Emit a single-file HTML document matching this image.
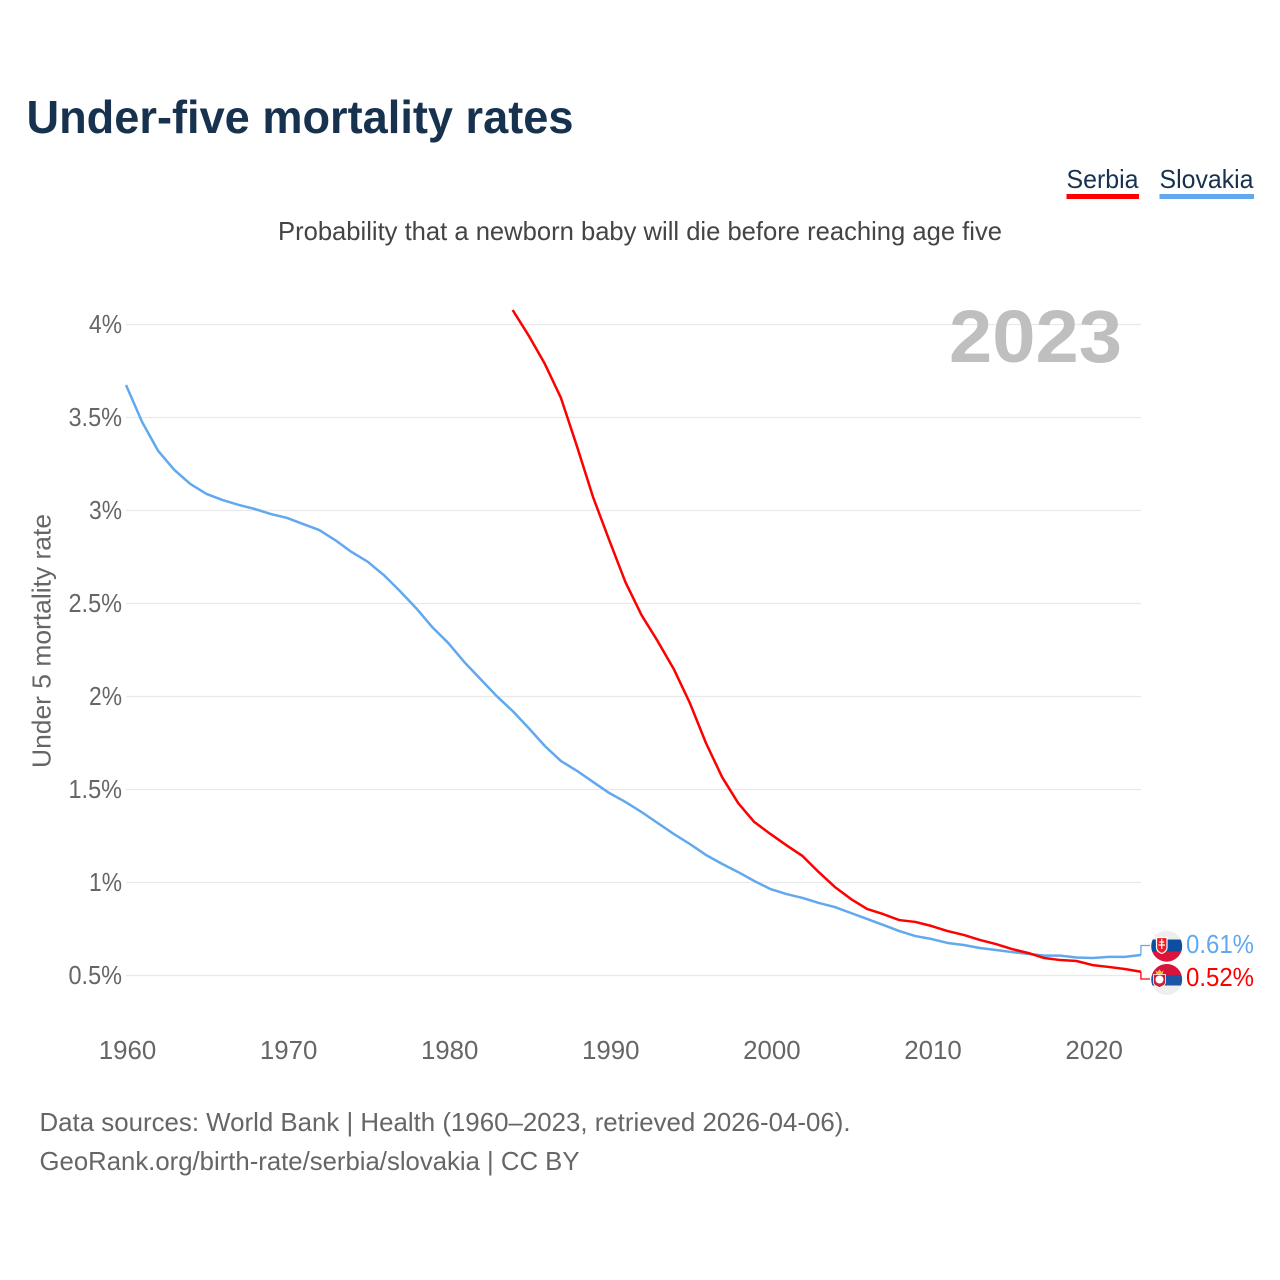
<!DOCTYPE html>
<html lang="en">
<head>
<meta charset="utf-8">
<title>Under-five mortality rates</title>
<style>
html,body{margin:0;padding:0;background:#fff;width:1280px;height:1280px;overflow:hidden}
svg{display:block}
text{font-family:"Liberation Sans",sans-serif}
</style>
</head>
<body>
<svg id="chart" xmlns="http://www.w3.org/2000/svg" width="1280" height="1280" viewBox="0 0 1280 1280">
  <defs>
    <clipPath id="clip-sk"><circle cx="1166.700" cy="946.200" r="15.500"/></clipPath>
    <clipPath id="clip-rs"><circle cx="1166.700" cy="979.500" r="15.500"/></clipPath>
  </defs>
  <rect width="1280" height="1280" fill="#fff"/>
  <text x="26.500" y="133" font-size="46" font-weight="700" fill="#17324f" textLength="547" lengthAdjust="spacingAndGlyphs">Under-five mortality rates</text>
  <g>
    <text x="1066.500" y="188" font-size="26" fill="#17324f" textLength="72" lengthAdjust="spacingAndGlyphs">Serbia</text>
    <rect x="1066.500" y="194" width="72.500" height="5" fill="#ff0000"/>
  </g>
  <g>
    <text x="1159.500" y="188" font-size="26" fill="#17324f" textLength="94" lengthAdjust="spacingAndGlyphs">Slovakia</text>
    <rect x="1159.500" y="194" width="94.500" height="5" fill="#62a8ee"/>
  </g>
  <text x="640" y="240" font-size="26" fill="#444" text-anchor="middle" textLength="724" lengthAdjust="spacingAndGlyphs">Probability that a newborn baby will die before reaching age five</text>
  <text transform="translate(50.500,641) rotate(-90)" font-size="26" fill="#666" text-anchor="middle" textLength="254" lengthAdjust="spacingAndGlyphs">Under 5 mortality rate</text>
  <g id="grid"></g>
  <g id="ytick"></g>
  <g id="xtick"></g>
  <text x="1122" y="362" font-size="74" font-weight="700" fill="#bfbfbf" text-anchor="end" textLength="173" lengthAdjust="spacingAndGlyphs">2023</text>
  <g id="series"></g>
  <g clip-path="url(#clip-sk)">
    <rect x="1150" y="930" width="34" height="10" fill="#eeeeee"/>
    <rect x="1150" y="939.500" width="34" height="12.500" fill="#0b4ea2"/>
    <rect x="1150" y="951.500" width="34" height="12" fill="#dc143c"/>
    <path d="M1156.500 937.500h10.500v10q0 4-5.250 6q-5.250-2-5.250-6z" fill="#ee1c25" stroke="#fff" stroke-width="1.200"/>
    <path d="M1161.750 939v10M1159.250 942h5M1158.500 945h6.500" stroke="#fff" stroke-width="1.200" fill="none"/>
  </g>
  <g clip-path="url(#clip-rs)">
    <rect x="1150" y="963" width="34" height="12" fill="#d6143c"/>
    <rect x="1150" y="975" width="34" height="10.500" fill="#1c55a5"/>
    <rect x="1150" y="985.500" width="34" height="11" fill="#eeeeee"/>
    <path d="M1155.500 970.500l2 1.500 2-2.500 2 2.500 2-1.500-1 4h-6z" fill="#f3c53c"/>
    <path d="M1153.500 974.500h12v8q0 3-6 5q-6-2-6-5z" fill="#c6213b" stroke="#fff" stroke-width="0.800"/>
    <circle cx="1159.500" cy="979.500" r="4" fill="#fff"/>
  </g>
  <text id="end-sk" x="1186" y="953" font-size="26" fill="#62a8ee" textLength="68" lengthAdjust="spacingAndGlyphs"></text>
  <text id="end-rs" x="1186" y="986" font-size="26" fill="#ff0000" textLength="68" lengthAdjust="spacingAndGlyphs"></text>
  <text x="39.500" y="1131" font-size="26" fill="#666" textLength="811" lengthAdjust="spacingAndGlyphs">Data sources: World Bank | Health (1960–2023, retrieved 2026-04-06).</text>
  <text x="39.500" y="1170" font-size="26" fill="#666" textLength="540" lengthAdjust="spacingAndGlyphs">GeoRank.org/birth-rate/serbia/slovakia | CC BY</text>
</svg>
<script>
const yTickValues = [0.5, 1, 1.5, 2, 2.5, 3, 3.5, 4];
const yTickLabels = ["0.5%", "1%", "1.5%", "2%", "2.5%", "3%", "3.5%", "4%"];
const xTickYears = [1960, 1970, 1980, 1990, 2000, 2010, 2020];
const slovakiaStartYear = 1960;
const slovakiaValues = [3.675,3.476,3.32,3.218,3.142,3.089,3.056,3.03,3.008,2.981,2.96,2.927,2.895,2.84,2.777,2.725,2.653,2.567,2.476,2.374,2.288,2.185,2.094,2.003,1.922,1.83,1.734,1.653,1.6,1.54,1.481,1.433,1.379,1.32,1.261,1.207,1.148,1.1,1.056,1.008,0.965,0.938,0.917,0.89,0.868,0.836,0.804,0.772,0.739,0.712,0.696,0.675,0.664,0.648,0.637,0.626,0.616,0.607,0.607,0.597,0.594,0.6,0.6,0.61];
const serbiaStartYear = 1984;
const serbiaValues = [4.078,3.94,3.788,3.605,3.343,3.07,2.84,2.615,2.438,2.298,2.148,1.965,1.75,1.567,1.427,1.325,1.261,1.2,1.142,1.056,0.976,0.911,0.858,0.83,0.798,0.788,0.766,0.739,0.718,0.691,0.669,0.642,0.621,0.594,0.583,0.578,0.556,0.546,0.535,0.52];
const endLabelSlovakia = "0.61%";
const endLabelSerbia = "0.52%";

const NS = "http://www.w3.org/2000/svg";
const xScale = year => 126 + (year - 1960) * 16.11;
const yScale = value => 1068.5 - value * 186;
const make = (tag, attrs, parent) => {
  const el = document.createElementNS(NS, tag);
  for (const k in attrs) el.setAttribute(k, attrs[k]);
  parent.appendChild(el);
  return el;
};
const grid = document.getElementById("grid");
const ytick = document.getElementById("ytick");
const xtick = document.getElementById("xtick");
const series = document.getElementById("series");

yTickValues.forEach((v, i) => {
  const y = yScale(v);
  const line = make("line", {x1: 126, x2: 1141, y1: y, y2: y, stroke: "#e9e9e9", "stroke-width": 1.2}, grid);
  
  
  const t = make("text", {x: 122, y: y + 8.5, "font-size": 26, fill: "#666", "text-anchor": "end"}, ytick);
  
  
  t.textContent = yTickLabels[i];
  t.setAttribute("textLength", yTickLabels[i].length > 2 ? 53.5 : 33);
  t.setAttribute("lengthAdjust", "spacingAndGlyphs");
});

xTickYears.forEach(year => {
  const t = make("text", {x: xScale(year) + 1.5, y: 1059, "font-size": 26, fill: "#666", "text-anchor": "middle", textLength: 57.5, lengthAdjust: "spacingAndGlyphs"}, xtick);
  
  
  t.textContent = year;
});

const linePath = (start, values) => values.map((v, i) => (i ? "L" : "M") + xScale(start + i).toFixed(2) + " " + yScale(v).toFixed(2)).join("");

const skLine = make("path", {d: linePath(slovakiaStartYear, slovakiaValues), fill: "none", stroke: "#62a8ee", "stroke-width": 2.5, "stroke-linejoin": "round"}, series);


const rsLine = make("path", {d: linePath(serbiaStartYear, serbiaValues), fill: "none", stroke: "#ff0000", "stroke-width": 2.5, "stroke-linejoin": "round"}, series);



const lastX = xScale(2023);
const skY = yScale(slovakiaValues[slovakiaValues.length - 1]);
const rsY = yScale(serbiaValues[serbiaValues.length - 1]);
const skLead = make("path", {d: `M${lastX} ${skY}V945.5H1150`, fill: "none", stroke: "#62a8ee", "stroke-width": 1.3}, series);


const rsLead = make("path", {d: `M${lastX} ${rsY}V979H1150`, fill: "none", stroke: "#ff0000", "stroke-width": 1.3}, series);



document.getElementById("end-sk").textContent = endLabelSlovakia;
document.getElementById("end-rs").textContent = endLabelSerbia;
</script>
</body>
</html>
